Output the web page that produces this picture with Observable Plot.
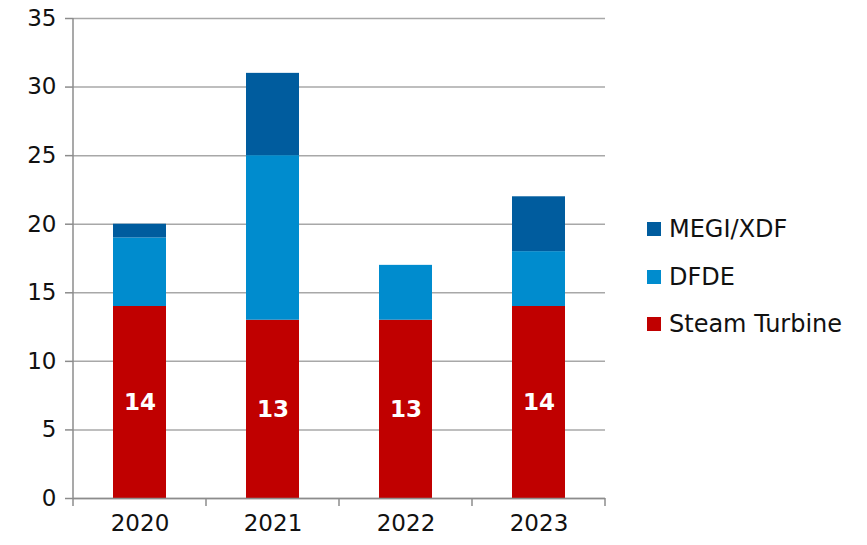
<!DOCTYPE html>
<html>
<head>
<meta charset="utf-8">
<script src="https://cdn.jsdelivr.net/npm/d3@7"></script>
<script src="https://cdn.jsdelivr.net/npm/@observablehq/plot@0.6"></script>
<style>
  html, body { margin: 0; padding: 0; background: #fff; }
  #wrap { position: relative; width: 867px; height: 545px; font-family: "DejaVu Sans", sans-serif; }
  .leg { position: absolute; left: 647px; display: flex; align-items: center; font-size: 24px; color: #111; white-space: nowrap; }
  .sw { width: 14px; height: 14px; margin-right: 8px; }
</style>
</head>
<body>
<div id="wrap"></div>
<script>
const years = ["2020", "2021", "2022", "2023"];
const steamTurbine = [14, 13, 13, 14];
const dfde = [5, 12, 4, 4];
const megiXdf = [1, 6, 0, 4];
const seriesNames = ["Steam Turbine", "DFDE", "MEGI/XDF"];
const seriesColors = ["#C00000", "#008CCE", "#005C9E"];
const yTicks = [0, 5, 10, 15, 20, 25, 30, 35];
const legendOrder = ["MEGI/XDF", "DFDE", "Steam Turbine"];

const seriesValues = [steamTurbine, dfde, megiXdf];
const data = [];
seriesNames.forEach((s, i) => years.forEach((y, j) => data.push({year: y, series: s, value: seriesValues[i][j]})));
const labels = years.map((y, j) => ({year: y, value: steamTurbine[j]}));

const xPaddingInner = 0.6, xPaddingOuter = 0.3;

function frameLines(index, scales, values, dimensions) {
  const x = scales.x, y = scales.y;
  const g = d3.create("svg:g");
  const {marginLeft} = dimensions;
  // y axis line
  g.append("line").attr("x1", marginLeft).attr("x2", marginLeft)
    .attr("y1", y(35)).attr("y2", y(0)).attr("stroke", "#8C8C8C").attr("stroke-width", 1.5);
  // x axis boundary ticks (between categories)
  const step = x(years[1]) - x(years[0]);
  let bw = x.bandwidth;
  if (typeof bw !== "number" || !isFinite(bw)) {
    bw = (scales.scales && scales.scales.x && scales.scales.x.bandwidth);
  }
  if (typeof bw !== "number" || !isFinite(bw)) bw = step * (1 - xPaddingInner);
  const gap = (step - bw) / 2;
  const bounds = years.map(d => x(d) - gap).concat([x(years[years.length - 1]) + bw + gap]);
  bounds.forEach(b => {
    g.append("line").attr("x1", b).attr("x2", b).attr("y1", y(0)).attr("y2", y(0) + 8)
      .attr("stroke", "#8C8C8C").attr("stroke-width", 1.5);
  });
  return g.node();
}

const chart = Plot.plot({
  width: 867,
  height: 545,
  marginLeft: 73,
  marginRight: 262,
  marginTop: 18,
  marginBottom: 47,
  style: {fontFamily: "DejaVu Sans, sans-serif", fontSize: "22px", color: "#111", background: "#fff"},
  x: {domain: years, paddingInner: xPaddingInner, paddingOuter: xPaddingOuter, label: null},
  y: {domain: [0, 35], label: null},
  color: {domain: seriesNames, range: seriesColors},
  marks: [
    Plot.gridY(yTicks, {stroke: "#A8A8A8", strokeOpacity: 1, strokeWidth: 1.5}),
    Plot.barY(data, {x: "year", y: "value", fill: "series"}),
    Plot.text(labels, {x: "year", y: d => d.value / 2, text: d => String(d.value), fill: "white", fontWeight: "bold", fontSize: 23}),
    Plot.ruleY([0], {stroke: "#8C8C8C", strokeWidth: 1.5}),
    frameLines,
    Plot.axisY(yTicks, {tickSize: 8, tickPadding: 9, stroke: "#8C8C8C", strokeWidth: 1.5, fontSize: 23, label: null}),
    Plot.axisX({tickSize: 0, tickPadding: 16, fontSize: 23, label: null})
  ]
});

const wrap = document.getElementById("wrap");
chart.style.position = "absolute";
chart.style.left = "0";
chart.style.top = "0";
wrap.appendChild(chart);
const legendY = {"MEGI/XDF": 229, "DFDE": 277, "Steam Turbine": 324};
legendOrder.forEach(name => {
  const row = document.createElement("div");
  row.className = "leg";
  row.style.top = (legendY[name] - 14) + "px";
  row.style.height = "28px";
  const sw = document.createElement("div");
  sw.className = "sw";
  sw.style.background = seriesColors[seriesNames.indexOf(name)];
  const t = document.createElement("span");
  t.textContent = name;
  row.appendChild(sw);
  row.appendChild(t);
  wrap.appendChild(row);
});
</script>
</body>
</html>
